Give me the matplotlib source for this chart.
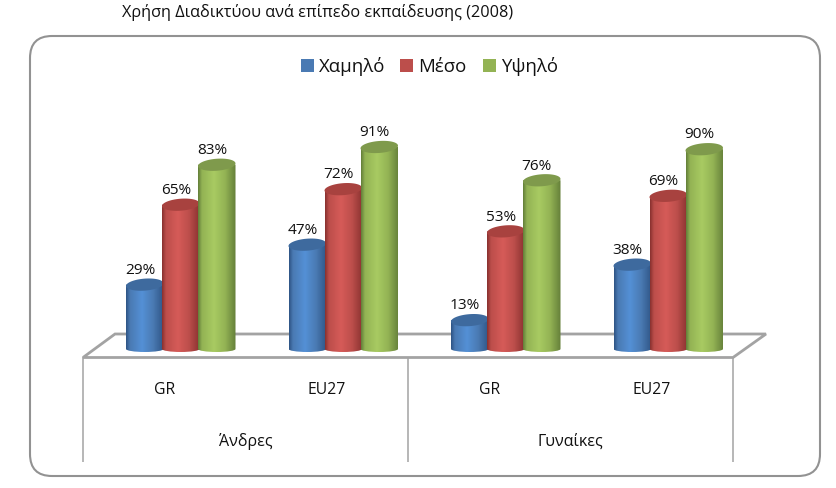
import numpy as np
import matplotlib
matplotlib.use("Agg")
import matplotlib.pyplot as plt
from matplotlib.patches import FancyBboxPatch, PathPatch, Polygon, Rectangle
from matplotlib.path import Path
from matplotlib.colors import LinearSegmentedColormap

W, H = 836, 489

title = "Χρήση Διαδικτύου ανά επίπεδο εκπαίδευσης (2008)"
categories = ["GR", "EU27", "GR", "EU27"]
groups = ["Άνδρες", "Γυναίκες"]
series_names = ["Χαμηλό", "Μέσο", "Υψηλό"]
low = [29, 47, 13, 38]
mid = [65, 72, 53, 69]
high = [83, 91, 76, 90]

colors = ["#4A7AB3", "#BC4E4B", "#93B354"]
darks = ["#2F5586", "#8A3230", "#65803A"]
lights = ["#5490D6", "#D65B58", "#A8CB62"]
tops = ["#3E6A9E", "#A8423F", "#7F9A4C"]

plt.rcParams["font.family"] = ["Open Sans", "DejaVu Sans"]

fig = plt.figure(figsize=(W / 100, H / 100), dpi=100, facecolor="white")

# background layer in pixel coordinates
bg = fig.add_axes([0, 0, 1, 1])
bg.set_xlim(0, W)
bg.set_ylim(H, 0)
bg.axis("off")

bg.add_patch(FancyBboxPatch((30, 37), 790, 440, boxstyle="round,pad=0,rounding_size=22",
                            fc="white", ec="#929292", lw=1.5))

# floor of the 3D chart
bg.add_patch(Polygon([(83, 358.5), (115, 335), (766, 335), (733, 358.5)], closed=True,
                     fc="white", ec="#A3A3A3", lw=2.0))
for x in [83, 408, 733]:
    bg.plot([x, x], [358, 463], color="#A3A3A3", lw=1.1, solid_capstyle="butt")

bg.text(122, 12.5, title, fontsize=11.7, ha="left", va="center", color="#111111")
for i, cat in enumerate(categories):
    bg.text(164.5 + 162.5 * i, 390.5, cat, fontsize=11.3, ha="center", va="center", color="#111111")
for i, grp in enumerate(groups):
    bg.text(245.5 + 325 * i, 441.5, grp, fontsize=11.5, ha="center", va="center", color="#111111")

# legend
for x, name, col, in zip([301, 400, 483], series_names, colors):
    bg.add_patch(Rectangle((x, 60), 13, 13, fc=col, ec="none"))
    bg.text(x + 18, 67, name, fontsize=13.4, ha="left", va="center", color="#111111")

# bars: x in category units, y in percent
SCALE = 2.22
ax = fig.add_axes([83 / W, 1 - 365 / H, 650 / W, 240 / H])
ax.set_xlim(-0.5, 3.5)
ax.set_ylim(-15 / SCALE, 225 / SCALE)
ax.axis("off")
ax.patch.set_alpha(0)

bar_w = 36 / 162.5
rx = 37.5 / 162.5 / 2
ry = 6 / SCALE
bottom_ry = 3 / SCALE
offset = 16.5 / 162.5
kappa = 0.5523


def cylinder(xc, val, k):
    x0, x1 = xc - rx, xc + rx
    # body with rounded bottom
    verts = [(x0, val), (x0, 0),
             (x0, -bottom_ry * kappa), (xc - rx * kappa, -bottom_ry), (xc, -bottom_ry),
             (xc + rx * kappa, -bottom_ry), (x1, -bottom_ry * kappa), (x1, 0),
             (x1, val), (x0, val)]
    codes = [Path.MOVETO, Path.LINETO, Path.CURVE4, Path.CURVE4, Path.CURVE4,
             Path.CURVE4, Path.CURVE4, Path.CURVE4, Path.LINETO, Path.CLOSEPOLY]
    clip = PathPatch(Path(verts, codes), fc="none", ec="none", transform=ax.transData)
    ax.add_patch(clip)
    cmap = LinearSegmentedColormap.from_list(
        "c", [(0, darks[k]), (0.1, colors[k]), (0.42, lights[k]), (0.72, colors[k]), (1, darks[k])])
    im = ax.imshow(np.linspace(0, 1, 64)[None, :], extent=(x0, x1, -bottom_ry, val), cmap=cmap,
                   aspect="auto", zorder=2 + k)
    im.set_clip_path(clip)
    # top cap, slightly tilted like the 3D view
    t = np.linspace(0, 2 * np.pi, 60)
    ax.fill(xc + rx * np.cos(t), val + ry * np.sin(t) + 0.6 * np.cos(t), color=tops[k],
            zorder=2 + k, lw=0, clip_on=False)


for k, values in enumerate([low, mid, high]):
    for i, v in enumerate(values):
        xc = i + offset + (k - 1) * bar_w
        cylinder(xc, v, k)
        ax.text(xc - 0.03, v + ry + 0.8, f"{v}%", fontsize=11.1, ha="center", va="bottom",
                color="#111111", clip_on=False, zorder=10)

ax.set_xlim(-0.5, 3.5)
ax.set_ylim(-15 / SCALE, 225 / SCALE)

fig.savefig("out.png", dpi=100)
